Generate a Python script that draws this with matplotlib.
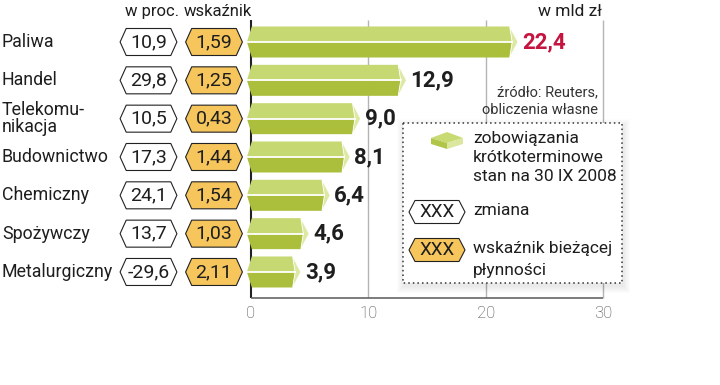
import numpy as np
import matplotlib.pyplot as plt
from matplotlib.patches import Polygon, Rectangle

plt.rcParams['font.family'] = ['Roboto', 'DejaVu Sans']

# dane
sektory = ['Paliwa', 'Handel', 'Telekomu-\nnikacja', 'Budownictwo',
           'Chemiczny', 'Spożywczy', 'Metalurgiczny']
zobowiazania = [22.4, 12.9, 9.0, 8.1, 6.4, 4.6, 3.9]   # w mld zł
zmiana = [10.9, 29.8, 10.5, 17.3, 24.1, 13.7, -29.6]     # w proc.
wskaznik = [1.59, 1.25, 0.43, 1.44, 1.54, 1.03, 2.11]
ticks = [0, 10, 20, 30]

# przeliczenie pikseli na jednostki osi (0 -> 251 px, 10 -> 368 px, wiersze co 38 px)
SX = 11.733
SY = 38.33
def X(px):
    return (px - 251) / SX
def Y(py):
    return (py - 42) / SY

fig = plt.figure(figsize=(7.2, 3.85), dpi=100)
ax = fig.add_axes([0, 0, 1, 1])
ax.set_xlim(X(0), X(720))
ax.set_ylim(Y(385), Y(0))
ax.axis('off')

DARK = '#1e1e1e'
ORANGE = '#f6c65c'

def pl(v, nd=1):
    return f"{v:.{nd}f}".replace('.', ',')

def tag(xc, yc, txt, fc, hw=1.9, hh=13.5 / SY, pt=0.52, fs=14, z=3):
    pts = [(xc - hw - pt, yc), (xc - hw, yc - hh), (xc + hw, yc - hh),
           (xc + hw + pt, yc), (xc + hw, yc + hh), (xc - hw, yc + hh)]
    ax.add_patch(Polygon(pts, closed=True, fc=fc, ec='#222', lw=0.8, zorder=z))
    ax.text(xc, yc, txt, ha='center', va='center', fontsize=fs, color=DARK, zorder=z + 1)

def bar(v, i, hh=15.5 / SY, d=0.7, dl=0.42):
    x0 = -0.35
    ve = v - 0.35
    m = ve + 0.3 * d
    ax.add_patch(Polygon([(x0, i), (x0 + dl, i - hh), (ve, i - hh), (m, i)],
                         fc='#c6d872', ec='none', zorder=2))
    ax.add_patch(Polygon([(x0, i), (x0 + dl, i + hh), (ve, i + hh), (m, i)],
                         fc='#abbf3d', ec='none', zorder=2))
    ax.add_patch(Polygon([(ve, i - hh), (ve + d, i), (ve, i + hh), (m, i)],
                         fc='#dde8a2', ec='white', lw=0.6, zorder=2))
    ax.plot([x0 + 0.05, m], [i, i], color='white', lw=1.3, zorder=2.5)

# siatka i oś
ax.vlines(ticks[1:], Y(20), Y(298), color='#b4b4b4', lw=1, zorder=0)
ax.vlines(0, Y(20), Y(298), color='#222', lw=1.5, zorder=1)
ax.hlines(Y(298), 0, 30, color='#666', lw=1.2, zorder=1)
for t in ticks:
    ax.text(t, Y(313), str(t), ha='center', va='center', fontsize=12,
            color='#444', fontweight='light')

# słupki, etykiety, znaczniki
for i, (s, v, z, w) in enumerate(zip(sektory, zobowiazania, zmiana, wskaznik)):
    bar(v, i)
    ax.text(v + 0.7, i, pl(v), ha='left', va='center', fontsize=16,
            fontweight='bold', color='#c4143f' if i == 0 else DARK)
    ax.text(X(2), i, s, ha='left', va='center', fontsize=12.8, color=DARK,
            linespacing=0.95)
    tag(X(148.5), i, pl(z), 'white')
    tag(X(214), i, pl(w, 2), ORANGE)

# nagłówki
ax.text(X(179), Y(12), 'w proc.', ha='right', va='center', fontsize=12, color=DARK)
ax.text(X(184), Y(12), 'wskaźnik', ha='left', va='center', fontsize=12, color=DARK)
ax.text(X(602), Y(12), 'w mld zł', ha='right', va='center', fontsize=12.5, color=DARK)

# źródło
ax.text(X(598), Y(92), 'źródło: Reuters,', ha='right', va='center', fontsize=10.5, color='#333')
ax.text(X(598), Y(110), 'obliczenia własne', ha='right', va='center', fontsize=10.5, color='#333')

# legenda
bx0, bx1, by0, by1 = 403, 622, 123, 283
for k in range(1, 8):
    ax.add_patch(Rectangle((X(bx0 - k + 1), Y(by0 - k + 3)), (bx1 - bx0 + 2 * k) / SX,
                           (by1 - by0 + 2 * k) / SY, fc='black', ec='none',
                           alpha=0.012, zorder=4))
ax.add_patch(Rectangle((X(bx0), Y(by0)), (bx1 - bx0) / SX, (by1 - by0) / SY,
                       fc='white', ec='#333', ls=(0, (1, 2)), lw=1.1, zorder=5))

# ikona pudełka
ax.add_patch(Polygon([(X(431), Y(138)), (X(447), Y(132)), (X(463), Y(138)), (X(447), Y(143))],
                     fc='#c8da72', ec='none', zorder=6))
ax.add_patch(Polygon([(X(431), Y(138)), (X(447), Y(143)), (X(447), Y(149)), (X(431), Y(144))],
                     fc='#b1c548', ec='none', zorder=6))
ax.add_patch(Polygon([(X(447), Y(143)), (X(463), Y(138)), (X(463), Y(144)), (X(447), Y(149))],
                     fc='#dbe69e', ec='none', zorder=6))

leg_fs = 12.5
ax.text(X(473), Y(139), 'zobowiązania', ha='left', va='center', fontsize=leg_fs, color=DARK, zorder=6)
ax.text(X(473), Y(158), 'krótkoterminowe', ha='left', va='center', fontsize=leg_fs, color=DARK, zorder=6)
ax.text(X(473), Y(177), 'stan na 30 IX 2008', ha='left', va='center', fontsize=leg_fs, color=DARK, zorder=6)

tag(X(437), Y(212), 'XXX', 'white', hw=22 / SX, hh=11.5 / SY, pt=6 / SX, fs=13.5, z=6)
ax.text(X(473), Y(211), 'zmiana', ha='left', va='center', fontsize=leg_fs, color=DARK, zorder=6)
tag(X(437), Y(250), 'XXX', ORANGE, hw=22 / SX, hh=11.5 / SY, pt=6 / SX, fs=13.5, z=6)
ax.text(X(473), Y(249), 'wskaźnik bieżącej', ha='left', va='center', fontsize=leg_fs, color=DARK, zorder=6)
ax.text(X(473), Y(270), 'płynności', ha='left', va='center', fontsize=leg_fs, color=DARK, zorder=6)

fig.savefig('out.png', dpi=100)
